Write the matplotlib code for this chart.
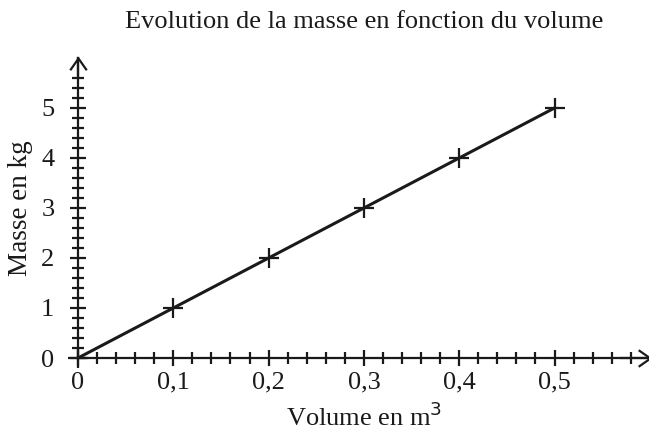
import matplotlib
matplotlib.use('Agg')
from matplotlib import pyplot as plt
from matplotlib.path import Path
import numpy as np

# data
volume = [0.0, 0.1, 0.2, 0.3, 0.4, 0.5]
masse = [0, 1, 2, 3, 4, 5]
x_ticks = [0, 0.1, 0.2, 0.3, 0.4, 0.5]
x_labels = ['0', '0,1', '0,2', '0,3', '0,4', '0,5']
y_ticks = [0, 1, 2, 3, 4, 5]
y_labels = ['0', '1', '2', '3', '4', '5']

plt.rcParams['font.family'] = ['Liberation Serif', 'DejaVu Serif']
ink = '#1a1a1a'

fig = plt.figure(figsize=(6.49, 4.40), dpi=100)
W, H = 649, 440
x0, y0 = 78, 358
px_x = 953.0   # pixels per unit of volume
px_y = 50.0    # pixels per kg
ax = fig.add_axes([x0 / W, (H - y0) / H, 0.6 * px_x / W, 6 * px_y / H])
ax.set_xlim(0, 0.6)
ax.set_ylim(0, 6)

for s in ['top', 'right']:
    ax.spines[s].set_visible(False)
for s in ['left', 'bottom']:
    ax.spines[s].set_linewidth(1.6)
    ax.spines[s].set_color(ink)

ax.set_xticks(x_ticks)
ax.set_xticklabels(x_labels)
ax.set_yticks(y_ticks)
ax.set_yticklabels(y_labels)
ax.set_xticks(np.arange(0.02, 0.59, 0.02), minor=True)
ax.set_yticks(np.arange(0.2, 5.7, 0.2), minor=True)
ax.tick_params(which='major', direction='inout', length=12, width=1.6,
               color=ink, labelsize=19, labelcolor=ink)
ax.tick_params(which='minor', direction='inout', length=8.5, width=1.6,
               color=ink)
ax.tick_params(axis='x', which='major', pad=4)
ax.tick_params(axis='y', which='major', pad=11)

# open chevron arrow heads at the axis ends
chev_right = Path([(-1, 0.7), (0, 0), (-1, -0.7)],
                  [Path.MOVETO, Path.LINETO, Path.LINETO])
chev_up = Path([(-0.7, -1), (0, 0), (0.7, -1)],
               [Path.MOVETO, Path.LINETO, Path.LINETO])
ax.plot([0.6], [0], marker=chev_right, markersize=17, color=ink,
        markerfacecolor='none', markeredgewidth=1.6, clip_on=False)
ax.plot([0], [6.0], marker=chev_up, markersize=17, color=ink,
        markerfacecolor='none', markeredgewidth=1.6, clip_on=False)
ax.plot([0.57, 0.6], [0, 0], color=ink, lw=1.6, clip_on=False)
ax.plot([0, 0], [5.6, 6.0], color=ink, lw=1.6, clip_on=False)

ax.plot(volume, masse, color=ink, lw=2.2, marker='+', markersize=14,
        markeredgewidth=1.6, clip_on=False)

fig.text((x0 + 0.3 * px_x) / W, 1 - 22 / H,
         'Evolution de la masse en fonction du volume',
         ha='center', va='center', fontsize=19, color=ink)
ax.set_xlabel('Volume en m$^3$', fontsize=19, color=ink, labelpad=6)
ax.set_ylabel('Masse en kg', fontsize=19.5, color=ink, labelpad=6)

plt.savefig('out.png', dpi=100)
